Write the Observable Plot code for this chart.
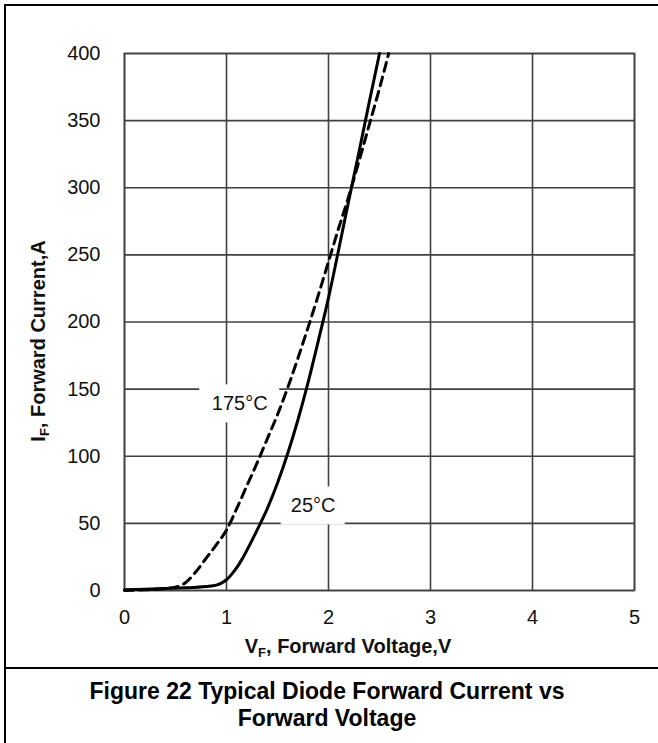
<!DOCTYPE html>
<html>
<head>
<meta charset="utf-8">
<script src="https://cdn.jsdelivr.net/npm/d3@7"></script>
<script src="https://cdn.jsdelivr.net/npm/@observablehq/plot@0.6"></script>
<style>
  html, body { margin: 0; padding: 0; background: #fff; overflow: hidden; }
  #fig { position: relative; width: 658px; height: 743px; overflow: hidden; background: #fff;
         font-family: "Liberation Sans", Arial, Helvetica, sans-serif; }
  #box { position: absolute; left: 4px; top: 4px; width: 720px; height: 800px;
         border-left: 2px solid #000; border-top: 2px solid #000; }
  #chart { position: absolute; left: 0; top: 0; }
  #rule { position: absolute; left: 4px; top: 667px; width: 700px; height: 2px; background: #000; }
  #caption { position: absolute; left: 0; top: 678px; width: 654px; text-align: center;
             font-weight: bold; font-size: 23px; line-height: 27px; color: #000; }
</style>
</head>
<body>
<div id="fig">
  <div id="box"></div>
  <div id="chart"></div>
  <div id="rule"></div>
  <div id="caption">Figure 22 Typical Diode Forward Current vs<br>Forward Voltage</div>
</div>
<script>
// Forward characteristic at 25 °C (V, A)
const volts25 = [0, 0.2, 0.4, 0.6, 0.8, 0.9, 0.95, 1.0, 1.05, 1.1, 1.15, 1.2, 1.3, 1.4, 1.5, 1.6, 1.7, 1.8, 1.9, 2.0, 2.1, 2.2, 2.3, 2.4, 2.5];
const amps25  = [0.5, 1, 1.5, 2, 3, 4, 5.5, 8, 12, 17, 23, 30, 45, 61, 80, 102, 127, 155, 186, 218, 254, 291, 327, 364, 400];

// Forward characteristic at 175 °C (V, A)
const volts175 = [0, 0.2, 0.4, 0.5, 0.55, 0.6, 0.7, 0.8, 0.9, 1.0, 1.1, 1.2, 1.3, 1.4, 1.5, 1.6, 1.7, 1.8, 1.9, 2.0, 2.1, 2.2, 2.3, 2.4, 2.5, 2.59];
const amps175  = [0, 0.5, 1.5, 2.5, 3.7, 6, 14, 24, 34, 45, 61, 78, 95, 113, 131, 151, 173, 196, 220, 245, 270, 294, 320, 347, 374, 400];

// Axis ticks
const xTicks = [0, 1, 2, 3, 4, 5];
const yTicks = [0, 50, 100, 150, 200, 250, 300, 350, 400];

// In-plot curve labels and where they sit (V, A)
const curveLabels = ["175°C", "25°C"];
const labelVolts = [1.13, 1.85];
const labelAmps = [139, 63];

const series25 = volts25.map((v, k) => ({v, i: amps25[k]}));
const series175 = volts175.map((v, k) => ({v, i: amps175[k]}));
const labels = curveLabels.map((text, k) => ({text, v: labelVolts[k], i: labelAmps[k]}));

const gridStyle = {stroke: "#404040", strokeOpacity: 1, strokeWidth: 1.6};

// white boxes behind the labels, sized from the label length
const labelBoxes = labels.map(d => Plot.rect([d], {
  x1: "v", x2: "v", y1: "i", y2: "i",
  insetLeft: -8 * d.text.length, insetRight: -8 * d.text.length,
  insetTop: -19, insetBottom: -19,
  fill: "white"
}));

const chart = Plot.plot({
  width: 658,
  height: 668,
  marginLeft: 124,
  marginRight: 24,
  marginTop: 53,
  marginBottom: 78,
  x: {domain: [0, 5]},
  y: {domain: [0, 400]},
  style: {
    fontFamily: "'Liberation Sans', Arial, Helvetica, sans-serif",
    fontSize: "20px",
    color: "#111",
    background: "transparent",
    overflow: "visible"
  },
  marks: [
    Plot.gridX(xTicks, gridStyle),
    Plot.gridY(yTicks, gridStyle),
    Plot.frame(gridStyle),
    ...labelBoxes,
    Plot.line(series175, {x: "v", y: "i", stroke: "#000", strokeWidth: 3, strokeDasharray: "9,6", curve: "monotone-x"}),
    Plot.line(series25, {x: "v", y: "i", stroke: "#000", strokeWidth: 3, curve: "monotone-x"}),
    Plot.text(labels, {x: "v", y: "i", text: "text", fill: "#111", fontSize: 20}),
    Plot.axisX(xTicks, {tickSize: 0, tickPadding: 19, label: null}),
    Plot.axisY(yTicks, {tickSize: 0, tickPadding: 24, label: null})
  ]
});

document.getElementById("chart").append(chart);

// axis titles with subscripted F
const svg = d3.select(chart);
const xTitle = svg.append("text")
  .attr("x", 348).attr("y", 653)
  .attr("text-anchor", "middle")
  .attr("font-weight", "bold").attr("font-size", 20).attr("fill", "#111");
xTitle.append("tspan").text("V");
xTitle.append("tspan").attr("font-size", 13).attr("dy", 4).text("F");
xTitle.append("tspan").attr("dy", -4).text(", Forward Voltage,V");

const yTitle = svg.append("text")
  .attr("transform", "translate(45,341) rotate(-90)")
  .attr("text-anchor", "middle")
  .attr("font-weight", "bold").attr("font-size", 20).attr("fill", "#111");
yTitle.append("tspan").text("I");
yTitle.append("tspan").attr("font-size", 13).attr("dy", 4).text("F");
yTitle.append("tspan").attr("dy", -4).text(", Forward Current,A");
</script>
</body>
</html>
